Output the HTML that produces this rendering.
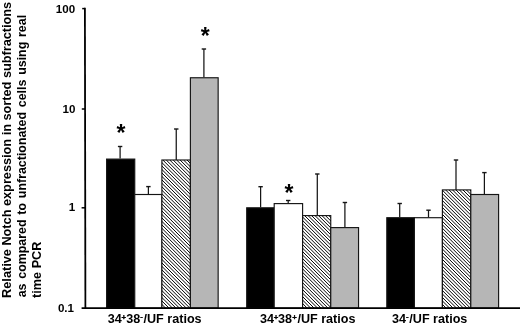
<!DOCTYPE html>
<html><head><meta charset="utf-8"><title>chart</title>
<style>
html,body{margin:0;padding:0;background:#fff;}
svg{display:block;}
text{font-family:"Liberation Sans",Arial,sans-serif;font-weight:bold;fill:#000;}
</style></head><body>
<svg width="520" height="324" viewBox="0 0 520 324">
<defs><filter id="bl" x="-5%" y="-5%" width="110%" height="110%"><feGaussianBlur stdDeviation="0.45"/></filter></defs>
<rect width="520" height="324" fill="#fff"/>

<line x1="120.1" y1="158.6" x2="120.1" y2="146.5" stroke="#151515" stroke-width="1.25"/>
<line x1="117.90" y1="146.5" x2="122.30" y2="146.5" stroke="#151515" stroke-width="1.4"/>
<rect x="106.60" y="159.1" width="28.15" height="149.00" fill="#000" stroke="#151515" stroke-width="1.15"/>
<line x1="148.4" y1="194.5" x2="148.4" y2="186.6" stroke="#151515" stroke-width="1.25"/>
<line x1="146.20" y1="186.6" x2="150.60" y2="186.6" stroke="#151515" stroke-width="1.4"/>
<rect x="134.75" y="194.5" width="27.15" height="113.60" fill="#fff" stroke="#151515" stroke-width="1.15"/>
<line x1="176.25" y1="160.0" x2="176.25" y2="129.0" stroke="#151515" stroke-width="1.25"/>
<line x1="174.05" y1="129.0" x2="178.45" y2="129.0" stroke="#151515" stroke-width="1.4"/>
<rect x="161.90" y="160.0" width="28.50" height="148.10" fill="#fff" stroke="#151515" stroke-width="1.15"/>
<clipPath id="c1"><rect x="161.90" y="160.0" width="28.50" height="148.10"/></clipPath>
<g clip-path="url(#c1)"><path filter="url(#bl)" d="M7.10,160.00l148.10,148.10M10.56,160.00l148.10,148.10M14.02,160.00l148.10,148.10M17.48,160.00l148.10,148.10M20.94,160.00l148.10,148.10M24.40,160.00l148.10,148.10M27.86,160.00l148.10,148.10M31.32,160.00l148.10,148.10M34.78,160.00l148.10,148.10M38.24,160.00l148.10,148.10M41.70,160.00l148.10,148.10M45.16,160.00l148.10,148.10M48.62,160.00l148.10,148.10M52.08,160.00l148.10,148.10M55.54,160.00l148.10,148.10M59.00,160.00l148.10,148.10M62.46,160.00l148.10,148.10M65.92,160.00l148.10,148.10M69.38,160.00l148.10,148.10M72.84,160.00l148.10,148.10M76.30,160.00l148.10,148.10M79.76,160.00l148.10,148.10M83.22,160.00l148.10,148.10M86.68,160.00l148.10,148.10M90.14,160.00l148.10,148.10M93.60,160.00l148.10,148.10M97.06,160.00l148.10,148.10M100.52,160.00l148.10,148.10M103.98,160.00l148.10,148.10M107.44,160.00l148.10,148.10M110.90,160.00l148.10,148.10M114.36,160.00l148.10,148.10M117.82,160.00l148.10,148.10M121.28,160.00l148.10,148.10M124.74,160.00l148.10,148.10M128.20,160.00l148.10,148.10M131.66,160.00l148.10,148.10M135.12,160.00l148.10,148.10M138.58,160.00l148.10,148.10M142.04,160.00l148.10,148.10M145.50,160.00l148.10,148.10M148.96,160.00l148.10,148.10M152.42,160.00l148.10,148.10M155.88,160.00l148.10,148.10M159.34,160.00l148.10,148.10M162.80,160.00l148.10,148.10M166.26,160.00l148.10,148.10M169.72,160.00l148.10,148.10M173.18,160.00l148.10,148.10M176.64,160.00l148.10,148.10M180.10,160.00l148.10,148.10M183.56,160.00l148.10,148.10M187.02,160.00l148.10,148.10" stroke="#000" stroke-width="1.0" fill="none"/></g>
<line x1="203.9" y1="77.25" x2="203.9" y2="49.0" stroke="#151515" stroke-width="1.25"/>
<line x1="201.70" y1="49.0" x2="206.10" y2="49.0" stroke="#151515" stroke-width="1.4"/>
<rect x="190.40" y="77.75" width="27.75" height="230.35" fill="#b6b6b6" stroke="#151515" stroke-width="1.15"/>
<line x1="260.6" y1="207.3" x2="260.6" y2="186.7" stroke="#151515" stroke-width="1.25"/>
<line x1="258.40" y1="186.7" x2="262.80" y2="186.7" stroke="#151515" stroke-width="1.4"/>
<rect x="246.70" y="207.8" width="27.50" height="100.30" fill="#000" stroke="#151515" stroke-width="1.15"/>
<line x1="288.2" y1="203.6" x2="288.2" y2="200.5" stroke="#151515" stroke-width="1.25"/>
<line x1="286.00" y1="200.5" x2="290.40" y2="200.5" stroke="#151515" stroke-width="1.4"/>
<rect x="274.20" y="203.6" width="28.40" height="104.50" fill="#fff" stroke="#151515" stroke-width="1.15"/>
<line x1="317.3" y1="215.6" x2="317.3" y2="174.0" stroke="#151515" stroke-width="1.25"/>
<line x1="315.10" y1="174.0" x2="319.50" y2="174.0" stroke="#151515" stroke-width="1.4"/>
<rect x="302.60" y="215.6" width="28.15" height="92.50" fill="#fff" stroke="#151515" stroke-width="1.15"/>
<clipPath id="c2"><rect x="302.60" y="215.6" width="28.15" height="92.50"/></clipPath>
<g clip-path="url(#c2)"><path filter="url(#bl)" d="M204.30,215.60l92.50,92.50M207.76,215.60l92.50,92.50M211.22,215.60l92.50,92.50M214.68,215.60l92.50,92.50M218.14,215.60l92.50,92.50M221.60,215.60l92.50,92.50M225.06,215.60l92.50,92.50M228.52,215.60l92.50,92.50M231.98,215.60l92.50,92.50M235.44,215.60l92.50,92.50M238.90,215.60l92.50,92.50M242.36,215.60l92.50,92.50M245.82,215.60l92.50,92.50M249.28,215.60l92.50,92.50M252.74,215.60l92.50,92.50M256.20,215.60l92.50,92.50M259.66,215.60l92.50,92.50M263.12,215.60l92.50,92.50M266.58,215.60l92.50,92.50M270.04,215.60l92.50,92.50M273.50,215.60l92.50,92.50M276.96,215.60l92.50,92.50M280.42,215.60l92.50,92.50M283.88,215.60l92.50,92.50M287.34,215.60l92.50,92.50M290.80,215.60l92.50,92.50M294.26,215.60l92.50,92.50M297.72,215.60l92.50,92.50M301.18,215.60l92.50,92.50M304.64,215.60l92.50,92.50M308.10,215.60l92.50,92.50M311.56,215.60l92.50,92.50M315.02,215.60l92.50,92.50M318.48,215.60l92.50,92.50M321.94,215.60l92.50,92.50M325.40,215.60l92.50,92.50M328.86,215.60l92.50,92.50" stroke="#000" stroke-width="1.0" fill="none"/></g>
<line x1="344.9" y1="227.1" x2="344.9" y2="202.5" stroke="#151515" stroke-width="1.25"/>
<line x1="342.70" y1="202.5" x2="347.10" y2="202.5" stroke="#151515" stroke-width="1.4"/>
<rect x="330.75" y="227.6" width="27.80" height="80.50" fill="#b6b6b6" stroke="#151515" stroke-width="1.15"/>
<line x1="399.7" y1="217.2" x2="399.7" y2="203.5" stroke="#151515" stroke-width="1.25"/>
<line x1="397.50" y1="203.5" x2="401.90" y2="203.5" stroke="#151515" stroke-width="1.4"/>
<rect x="386.80" y="217.7" width="27.60" height="90.40" fill="#000" stroke="#151515" stroke-width="1.15"/>
<line x1="428.5" y1="217.7" x2="428.5" y2="210.2" stroke="#151515" stroke-width="1.25"/>
<line x1="426.30" y1="210.2" x2="430.70" y2="210.2" stroke="#151515" stroke-width="1.4"/>
<rect x="414.40" y="217.7" width="28.00" height="90.40" fill="#fff" stroke="#151515" stroke-width="1.15"/>
<line x1="456.0" y1="189.9" x2="456.0" y2="160.0" stroke="#151515" stroke-width="1.25"/>
<line x1="453.80" y1="160.0" x2="458.20" y2="160.0" stroke="#151515" stroke-width="1.4"/>
<rect x="442.40" y="189.9" width="28.40" height="118.20" fill="#fff" stroke="#151515" stroke-width="1.15"/>
<clipPath id="c3"><rect x="442.40" y="189.9" width="28.40" height="118.20"/></clipPath>
<g clip-path="url(#c3)"><path filter="url(#bl)" d="M317.55,189.90l118.20,118.20M321.01,189.90l118.20,118.20M324.47,189.90l118.20,118.20M327.93,189.90l118.20,118.20M331.39,189.90l118.20,118.20M334.85,189.90l118.20,118.20M338.31,189.90l118.20,118.20M341.77,189.90l118.20,118.20M345.23,189.90l118.20,118.20M348.69,189.90l118.20,118.20M352.15,189.90l118.20,118.20M355.61,189.90l118.20,118.20M359.07,189.90l118.20,118.20M362.53,189.90l118.20,118.20M365.99,189.90l118.20,118.20M369.45,189.90l118.20,118.20M372.91,189.90l118.20,118.20M376.37,189.90l118.20,118.20M379.83,189.90l118.20,118.20M383.29,189.90l118.20,118.20M386.75,189.90l118.20,118.20M390.21,189.90l118.20,118.20M393.67,189.90l118.20,118.20M397.13,189.90l118.20,118.20M400.59,189.90l118.20,118.20M404.05,189.90l118.20,118.20M407.51,189.90l118.20,118.20M410.97,189.90l118.20,118.20M414.43,189.90l118.20,118.20M417.89,189.90l118.20,118.20M421.35,189.90l118.20,118.20M424.81,189.90l118.20,118.20M428.27,189.90l118.20,118.20M431.73,189.90l118.20,118.20M435.19,189.90l118.20,118.20M438.65,189.90l118.20,118.20M442.11,189.90l118.20,118.20M445.57,189.90l118.20,118.20M449.03,189.90l118.20,118.20M452.49,189.90l118.20,118.20M455.95,189.90l118.20,118.20M459.41,189.90l118.20,118.20M462.87,189.90l118.20,118.20M466.33,189.90l118.20,118.20M469.79,189.90l118.20,118.20" stroke="#000" stroke-width="1.0" fill="none"/></g>
<line x1="484.4" y1="194.0" x2="484.4" y2="172.6" stroke="#151515" stroke-width="1.25"/>
<line x1="482.20" y1="172.6" x2="486.60" y2="172.6" stroke="#151515" stroke-width="1.4"/>
<rect x="470.80" y="194.5" width="27.80" height="113.60" fill="#b6b6b6" stroke="#151515" stroke-width="1.15"/>
<line x1="84.9" y1="7.8" x2="85.4" y2="309" stroke="#000" stroke-width="1.8"/>
<line x1="81.6" y1="308.1" x2="520" y2="308.1" stroke="#000" stroke-width="1.8"/>
<line x1="82.2" y1="8.6" x2="85" y2="8.6" stroke="#000" stroke-width="1.5"/>
<line x1="81.8" y1="109" x2="85" y2="109" stroke="#000" stroke-width="1.5"/>
<line x1="81.6" y1="207.8" x2="85" y2="207.8" stroke="#000" stroke-width="1.5"/>
<text x="75.1" y="12.6" font-size="11.6" text-anchor="end">100</text>
<text x="75.5" y="112.7" font-size="11.6" text-anchor="end">10</text>
<text x="75.1" y="211.3" font-size="11.6" text-anchor="end">1</text>
<text x="74.0" y="311.7" font-size="11.6" text-anchor="end">0.1</text>
<text x="121" y="141.1" font-size="23" text-anchor="middle">*</text>
<text x="205.3" y="44.2" font-size="23" text-anchor="middle">*</text>
<text x="289" y="200.6" font-size="23" text-anchor="middle">*</text>
<text x="107.8" y="323.4" font-size="12.6">34</text><text x="121.6" y="319.50" font-size="7.8" stroke="#000" stroke-width="0.35">+</text><text x="126.3" y="323.4" font-size="12.6">38</text><text x="140.2" y="318.70" font-size="7.8" stroke="#000" stroke-width="0.35">-</text><text x="143.5" y="323.4" font-size="12.6">/UF ratios</text>
<text x="260.1" y="323.4" font-size="12.6">34</text><text x="273.8" y="319.50" font-size="7.8" stroke="#000" stroke-width="0.35">+</text><text x="278.1" y="323.4" font-size="12.6">38</text><text x="292.3" y="319.50" font-size="7.8" stroke="#000" stroke-width="0.35">+</text><text x="297.4" y="323.4" font-size="12.6">/UF ratios</text>
<text x="392.0" y="323.4" font-size="12.6">34</text><text x="406.0" y="318.70" font-size="7.8" stroke="#000" stroke-width="0.35">-</text><text x="409.3" y="323.4" font-size="12.6">/UF ratios</text>
<g transform="translate(0 297.9) rotate(-90)" font-size="12.66">
<text x="0" y="10.9" textLength="296.1" lengthAdjust="spacingAndGlyphs">Relative Notch expression in sorted subfractions</text>
<text x="0.6" y="26.0" word-spacing="1.4" textLength="282.4" lengthAdjust="spacingAndGlyphs">as compared to unfractionated cells using real</text>
<text x="0" y="41.2">time PCR</text>
</g>
</svg></body></html>
